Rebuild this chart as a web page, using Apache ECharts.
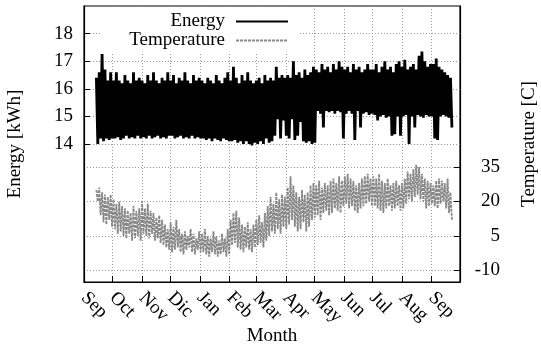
<!DOCTYPE html>
<html>
<head>
<meta charset="utf-8">
<script src="https://cdn.jsdelivr.net/npm/echarts@6/dist/echarts.min.js"></script>
<style>
  html, body { margin: 0; padding: 0; background: #fff; }
  #chart { width: 541px; height: 345px; }
</style>
</head>
<body>
<div id="chart"></div>
<script>
// month ticks, days counted from 1 Sep
var monthNames = ['Sep', 'Oct', 'Nov', 'Dic', 'Jan', 'Feb', 'Mar', 'Apr', 'May', 'Jun', 'Jul', 'Aug', 'Sep'];
var monthStartDays = [0, 30, 61, 91, 122, 153, 181, 212, 242, 273, 303, 334, 365];

var energyTicks = [14, 15, 16, 17, 18];
var tempTicks = [-10, 5, 20, 35];

// readings every 3 days from day 13: daily peak and daily low
var firstDay = 13;
var stepDays = 3;

var energyHigh = [
  16.4, 16.6, 17.3, 16.7, 16.3, 16.6,
  16.3, 16.6, 16.3, 16.2, 16.5, 16.3, 16.2, 16.6, 16.3, 16.4,
  16.3, 16.2, 16.5, 16.3, 16.6, 16.3, 16.2, 16.4, 16.3, 16.6,
  16.3, 16.5, 16.2, 16.4, 16.3, 16.6, 16.3, 16.2, 16.5, 16.3, 16.4,
  16.3, 16.2, 16.4, 16.3, 16.2, 16.5, 16.3, 16.2, 16.4, 16.6,
  16.3, 16.8, 16.4, 16.2, 16.5, 16.3, 16.6, 16.3, 16.2,
  16.3, 16.4, 16.2, 16.5, 16.3, 16.4, 16.3, 16.8, 16.4, 16.5, 16.4,
  16.5, 16.4, 17.0, 16.5, 16.6, 16.4, 16.7, 16.5, 16.6, 16.8,
  16.7, 16.6, 16.9, 16.7, 16.8, 16.6, 16.9, 16.7, 17.0, 16.8,
  16.7, 16.8, 16.6, 16.9, 16.7, 16.8, 16.6, 16.7, 16.9, 16.7,
  16.7, 16.9, 16.6, 16.8, 17.0, 16.7, 16.8, 16.6, 16.9, 17.0,
  16.8, 17.05, 16.7, 16.8, 16.9, 16.7, 17.2, 17.35, 17.0, 16.8, 16.9,
  16.9, 17.1, 16.8, 16.7, 16.6, 16.5, 16.4
];
var energyLow = [
  14.0, 14.2, 14.1, 14.2, 14.15, 14.2,
  14.2, 14.25, 14.15, 14.2, 14.3, 14.2, 14.25, 14.2, 14.3, 14.2,
  14.25, 14.2, 14.3, 14.2, 14.25, 14.3, 14.2, 14.25, 14.2, 14.3,
  14.3, 14.2, 14.25, 14.3, 14.2, 14.25, 14.2, 14.3, 14.2, 14.25, 14.2,
  14.2, 14.15, 14.2, 14.1, 14.2, 14.15, 14.1, 14.2, 14.15, 14.1,
  14.1, 14.15, 14.05, 14.1, 14.0, 14.1, 14.0, 13.95, 14.05,
  14.0, 14.1, 14.0, 14.2, 14.05, 14.1, 14.3, 14.9, 14.2, 14.85, 14.3,
  14.2, 14.9, 14.15, 14.3, 14.8, 14.1, 14.05, 14.1, 14.0, 14.05,
  15.2, 15.1, 14.6, 15.2, 15.15, 15.2, 15.1, 15.2, 15.15, 14.2,
  15.1, 15.2, 15.1, 14.15, 15.2, 14.6, 15.1, 15.15, 15.05, 15.1,
  15.05, 14.85, 15.0, 15.05, 14.95, 15.0, 14.3, 14.35, 15.0, 14.3,
  15.0, 15.05, 14.0, 15.0, 14.6, 15.05, 15.0, 14.95, 15.05, 15.0, 15.0,
  14.2, 14.15, 15.0, 15.05, 15.0, 14.95, 14.6
];

var tempHigh = [
  25, 26, 24, 23, 22, 23,
  21, 19, 20, 18, 17, 16, 15, 18, 16, 17,
  20, 17, 19, 16, 15, 13, 14, 12, 10, 8,
  11, 9, 12, 8, 6, 7, 5, 8, 6, 4, 7,
  6, 8, 5, 4, 7, 5, 3, 6, 4, 8,
  12, 15, 16, 13, 10, 9, 11, 8, 10,
  12, 14, 11, 15, 18, 22, 19, 24, 21, 23, 22,
  26, 31, 27, 24, 22, 25, 23, 24, 27, 28,
  27, 29, 26, 28, 27, 29, 30, 28, 31, 29,
  31, 32, 30, 29, 27, 28, 30, 31, 32, 30,
  31, 30, 32, 29, 28, 30, 27, 28, 29, 27,
  28, 30, 33, 32, 34, 36, 35, 32, 30, 29, 28,
  27, 29, 30, 29, 28, 30, 24
];
var tempLow = [
  20, 14, 11, 10, 12, 9,
  8, 6, 7, 5, 4, 6, 3, 4, 5, 3,
  6, 5, 4, 6, 3, 4, 2, 1, 0, -1,
  -2, -1, 0, -2, -3, -1, 0, -2, -3, -1, -2,
  -2, -3, -4, -2, -3, -4, -3, -2, -4, -3,
  1, 2, 0, -1, -2, 0, -1, -2, 0,
  1, 2, 0, 3, 5, 7, 6, 8, 6, 9, 8,
  10, 12, 9, 7, 8, 11, 7, 9, 12, 13,
  14, 12, 15, 16, 14, 15, 17, 16, 15, 18,
  19, 17, 18, 16, 15, 17, 18, 19, 20, 18,
  18, 17, 16, 15, 17, 18, 16, 17, 18, 16,
  17, 19, 21, 20, 22, 23, 21, 20, 17, 18, 19,
  18, 17, 19, 20, 17, 15, 12
];

function zigzag(high, low) {
  var out = [];
  for (var i = 0; i < high.length; i++) {
    var d = firstDay + i * stepDays;
    out.push([d, high[i]]);
    out.push([d + stepDays / 2, low[i]]);
  }
  return out;
}

var font = 'Liberation Serif';
var dotted = { color: '#999', type: [1, 2], width: 1 };

var myChart = echarts.init(document.getElementById('chart'), null, { renderer: 'canvas' });
var option = {
  animation: false,
  textStyle: { fontFamily: font, color: '#000' },
  grid: {
    left: 84, right: 81, top: 6, bottom: 63,
    containLabel: false,
    outerBoundsMode: 'none',
    show: true, borderColor: '#000', borderWidth: 1.2
  },
  legend: {
    data: ['Energy', 'Temperature'],
    orient: 'vertical',
    align: 'right',
    right: 241,
    top: 9,
    itemWidth: 52,
    itemHeight: 12,
    itemGap: 0,
    padding: [3, 11, 4, 29],
    backgroundColor: '#fff',
    itemStyle: { opacity: 0 },
    textStyle: { fontFamily: font, fontSize: 19, lineHeight: 17, color: '#000', padding: [0, 6, 0, 0] }
  },
  xAxis: {
    type: 'value',
    min: 0,
    max: 395,
    name: 'Month',
    nameLocation: 'middle',
    nameGap: 45,
    nameMoveOverlap: false,
    nameTextStyle: { fontFamily: font, fontSize: 19, color: '#000' },
    axisLine: { onZero: false, lineStyle: { color: '#000', width: 1.2 } },
    axisTick: { inside: true, length: 6, customValues: monthStartDays, lineStyle: { color: '#000' } },
    axisLabel: {
      customValues: monthStartDays,
      rotate: -45,
      margin: 13,
      fontFamily: font, fontSize: 19, color: '#000',
      formatter: function (v) {
        var i = monthStartDays.indexOf(v);
        return i >= 0 ? monthNames[i] : '';
      }
    },
    splitLine: { show: true, lineStyle: dotted }
  },
  yAxis: [
    {
      type: 'value',
      min: 9,
      max: 19,
      name: 'Energy [kWh]',
      nameLocation: 'middle',
      nameGap: 59,
      nameTextStyle: { fontFamily: font, fontSize: 19, color: '#000' },
      axisLine: { show: true, onZero: false, lineStyle: { color: '#000', width: 1.2 } },
      axisTick: { inside: true, length: 6, customValues: energyTicks, lineStyle: { color: '#000' } },
      axisLabel: { customValues: energyTicks, margin: 11, fontFamily: font, fontSize: 19, color: '#000' },
      splitLine: { show: true, lineStyle: dotted }
    },
    {
      type: 'value',
      min: -15,
      max: 105,
      position: 'right',
      name: 'Temperature [C]',
      nameLocation: 'middle',
      nameGap: 60,
      nameTextStyle: { fontFamily: font, fontSize: 19, color: '#000' },
      axisLine: { show: true, onZero: false, lineStyle: { color: '#000', width: 1.2 } },
      axisTick: { inside: true, length: 6, customValues: tempTicks, lineStyle: { color: '#000' } },
      axisLabel: { customValues: tempTicks, align: 'right', margin: 40, fontFamily: font, fontSize: 19, color: '#000' },
      splitLine: { show: true, lineStyle: dotted }
    }
  ],
  series: [
    {
      name: 'Energy',
      type: 'line',
      yAxisIndex: 0,
      symbol: 'none',
      color: '#000',
      lineStyle: { color: '#000', width: 2.8 },
      data: zigzag(energyHigh, energyLow)
    },
    {
      name: 'Temperature',
      type: 'line',
      yAxisIndex: 1,
      symbol: 'none',
      color: '#888',
      lineStyle: { color: '#888', width: 1.8, type: [3, 1] },
      data: zigzag(tempHigh, tempLow)
    }
  ]
};
myChart.setOption(option);
</script>
</body>
</html>
